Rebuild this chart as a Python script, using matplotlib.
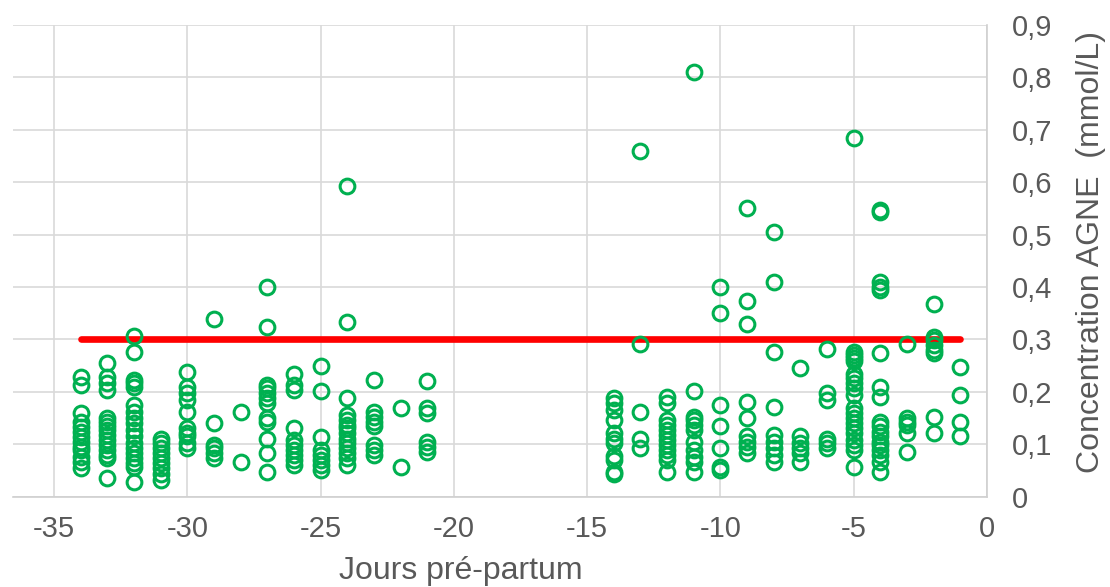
import matplotlib
matplotlib.use("Agg")
import matplotlib.pyplot as plt

# jours pré-partum et concentrations AGNE (mmol/L)
jours = [-34, -33, -32, -31, -30, -29, -28, -27, -26, -25, -24, -23, -22, -21,
         -14, -13, -12, -11, -10, -9, -8, -7, -6, -5, -4, -3, -2, -1]

agne = [
    [0.229, 0.213, 0.159, 0.143, 0.133, 0.124, 0.114, 0.105, 0.095, 0.089, 0.076, 0.067, 0.054],
    [0.256, 0.229, 0.216, 0.204, 0.150, 0.143, 0.134, 0.127, 0.118, 0.108, 0.099, 0.089, 0.080, 0.073, 0.035],
    [0.307, 0.277, 0.223, 0.216, 0.210, 0.175, 0.162, 0.150, 0.140, 0.127, 0.115, 0.102, 0.092, 0.083, 0.073, 0.064, 0.057, 0.029],
    [0.111, 0.102, 0.092, 0.083, 0.073, 0.064, 0.054, 0.043, 0.032],
    [0.237, 0.210, 0.197, 0.185, 0.162, 0.131, 0.121, 0.115, 0.102, 0.092],
    [0.339, 0.140, 0.099, 0.092, 0.083, 0.073],
    [0.162, 0.067],
    [0.401, 0.324, 0.213, 0.207, 0.197, 0.188, 0.178, 0.150, 0.143, 0.111, 0.083, 0.048],
    [0.234, 0.213, 0.204, 0.131, 0.108, 0.099, 0.089, 0.080, 0.070, 0.060],
    [0.249, 0.202, 0.113, 0.089, 0.080, 0.070, 0.060, 0.051],
    [0.592, 0.333, 0.188, 0.156, 0.146, 0.137, 0.131, 0.121, 0.111, 0.102, 0.092, 0.083, 0.073, 0.060],
    [0.223, 0.162, 0.153, 0.143, 0.134, 0.099, 0.089, 0.080],
    [0.169, 0.057],
    [0.221, 0.169, 0.159, 0.105, 0.095, 0.086],
    [0.188, 0.178, 0.165, 0.146, 0.121, 0.111, 0.102, 0.077, 0.070, 0.048, 0.043],
    [0.660, 0.291, 0.162, 0.111, 0.092],
    [0.191, 0.178, 0.146, 0.137, 0.127, 0.118, 0.108, 0.099, 0.089, 0.080, 0.070, 0.048],
    [0.810, 0.202, 0.153, 0.146, 0.137, 0.127, 0.105, 0.089, 0.076, 0.067, 0.048],
    [0.401, 0.350, 0.175, 0.134, 0.092, 0.057, 0.051],
    [0.550, 0.374, 0.329, 0.181, 0.150, 0.115, 0.105, 0.095, 0.083],
    [0.505, 0.410, 0.277, 0.172, 0.118, 0.105, 0.092, 0.080, 0.067],
    [0.246, 0.115, 0.102, 0.092, 0.083, 0.067],
    [0.282, 0.197, 0.185, 0.111, 0.102, 0.092],
    [0.684, 0.277, 0.270, 0.264, 0.258, 0.235, 0.226, 0.216, 0.207, 0.194, 0.169, 0.159,
     0.150, 0.140, 0.131, 0.121, 0.108, 0.099, 0.089, 0.057],
    [0.547, 0.544, 0.410, 0.401, 0.394, 0.274, 0.210, 0.191, 0.143, 0.134, 0.124, 0.115,
     0.105, 0.099, 0.089, 0.080, 0.067, 0.048],
    [0.291, 0.150, 0.143, 0.137, 0.121, 0.086],
    [0.368, 0.305, 0.299, 0.290, 0.280, 0.274, 0.153, 0.122],
    [0.247, 0.194, 0.143, 0.115],
]

# seuil de 0,3 mmol/L
seuil_x = [-34, -1]
seuil_y = [0.3, 0.3]

x_ticks = [-35, -30, -25, -20, -15, -10, -5, 0]
y_ticks = [0, 0.1, 0.2, 0.3, 0.4, 0.5, 0.6, 0.7, 0.8, 0.9]

x = [j for j, vals in zip(jours, agne) for _ in vals]
y = [v for vals in agne for v in vals]

plt.rcParams["font.family"] = ["Liberation Sans Narrow", "Liberation Sans", "DejaVu Sans"]
gris = "#595959"

fig = plt.figure(figsize=(11.1, 5.87), dpi=100)
ax = fig.add_axes([13 / 1110, 90.3 / 587, 974 / 1110, 471.7 / 587])

ax.plot(seuil_x, seuil_y, color="#FF0000", linewidth=4.8, solid_capstyle="round", zorder=2)
ax.plot(x, y, linestyle="none", marker="o", markersize=10.6, markeredgewidth=2.2,
        markerfacecolor="none", markeredgecolor="#00B050", zorder=3)

ax.set_xlim(-36.54, 0)
ax.set_ylim(0, 0.9)
ax.set_xticks(x_ticks)
ax.set_xticklabels([str(t) for t in x_ticks])
ax.set_yticks(y_ticks)
ax.set_yticklabels(["0"] + [f"{t:.1f}".replace(".", ",") for t in y_ticks[1:]])

ax.yaxis.tick_right()
ax.yaxis.set_label_position("right")
ax.tick_params(axis="both", length=0, labelsize=21, labelcolor=gris)
ax.tick_params(axis="x", pad=13)
ax.tick_params(axis="y", pad=18)

ax.grid(True, color="#D9D9D9", linewidth=1.2)
ax.set_axisbelow(True)
for side in ["left", "top"]:
    ax.spines[side].set_visible(False)
for side in ["bottom", "right"]:
    ax.spines[side].set_color("#D0D0D0")
    ax.spines[side].set_linewidth(1.2)

ax.set_xlabel("Jours pré-partum", fontsize=23, color=gris)
ax.xaxis.set_label_coords(0.46, -0.126)
ax.set_ylabel("Concentration AGNE  (mmol/L)", fontsize=23, color=gris)
ax.yaxis.set_label_coords(1.091, 0.519)

fig.savefig("out.png", dpi=100)
